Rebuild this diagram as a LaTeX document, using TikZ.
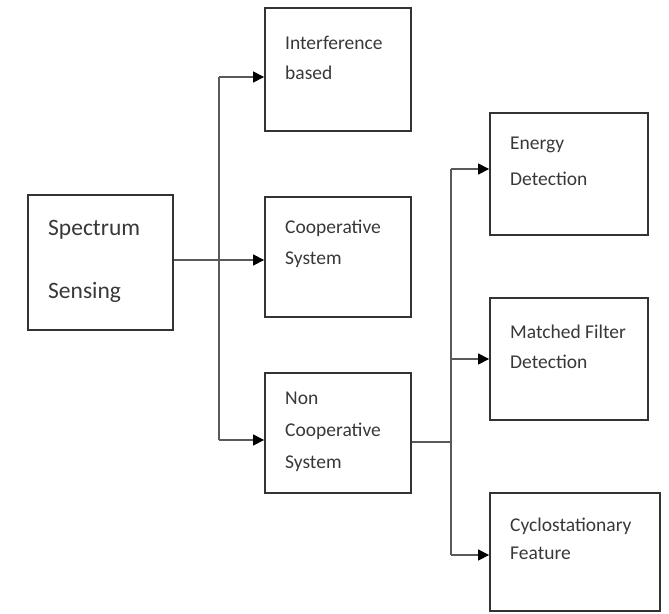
\documentclass[tikz,border=0pt]{standalone}
\usepackage{fontspec}
\setmainfont{Carlito}
\usetikzlibrary{arrows.meta}
\begin{document}
\begin{tikzpicture}[x=1pt,y=-1pt,
  box/.style={draw=black!80,line width=1.8pt,minimum width=#1,inner sep=0pt},
  lbl/.style={anchor=base west,inner sep=0pt,text=black!78,font=\fontsize{19.5}{23}\selectfont},
  biglbl/.style={anchor=base west,inner sep=0pt,text=black!78,font=\fontsize{23.5}{28}\selectfont},
  conn/.style={draw=black!65,line width=1.1pt},
  arr/.style={conn,-{Triangle[length=11pt,width=11pt,color=black]}}]
\useasboundingbox (0,0) rectangle (669,613);
% boxes
\node[box=145pt,minimum height=135pt] (ss) at (100.5,262.5) {};
\node[box=146pt,minimum height=123pt] (ib) at (338,69.5) {};
\node[box=146pt,minimum height=120pt] (cs) at (338,257) {};
\node[box=146pt,minimum height=120pt] (nc) at (338,433) {};
\node[box=158pt,minimum height=122pt] (ed) at (569,174) {};
\node[box=158pt,minimum height=122pt] (mf) at (569,359) {};
\node[box=170pt,minimum height=118pt] (cf) at (575,552) {};
% texts
\node[biglbl] (ss1) at (48,235) {Spectrum};
\node[biglbl] (ss2) at (48,298) {Sensing};
\node[lbl] (ib1) at (285,49) {Interference};
\node[lbl] (ib2) at (285,79) {based};
\node[lbl] (cs1) at (285,233) {Cooperative};
\node[lbl] (cs2) at (285,264) {System};
\node[lbl] (nc1) at (285,404) {Non};
\node[lbl] (nc2) at (285,436) {Cooperative};
\node[lbl] (nc3) at (285,468) {System};
\node[lbl] (ed1) at (510,149) {Energy};
\node[lbl] (ed2) at (510,185) {Detection};
\node[lbl] (mf1) at (510,338) {Matched Filter};
\node[lbl] (mf2) at (510,368) {Detection};
\node[lbl] (cf1) at (510,531) {Cyclostationary};
\node[lbl] (cf2) at (510,559) {Feature};
% junctions
\coordinate (j1) at (219,260);
\coordinate (j2) at (451,442);
% first level
\draw[conn,line width=1.8pt] (ss.east |- j1) -- (j1);
\draw[conn] (219,77) -- (219,440);
\draw[arr] (219,77) -- (ib.west |- 0,77);
\draw[arr] (j1) -- (cs.west |- j1);
\draw[arr] (219,440) -- (nc.west |- 0,440);
% second level
\draw[conn,line width=1.6pt] (nc.east |- j2) -- (j2);
\draw[conn] (451,169) -- (451,555);
\draw[arr] (451,169) -- (ed.west |- 0,169);
\draw[arr] (451,359) -- (mf.west |- 0,359);
\draw[arr] (451,555) -- (cf.west |- 0,555);
\end{tikzpicture}
\end{document}
